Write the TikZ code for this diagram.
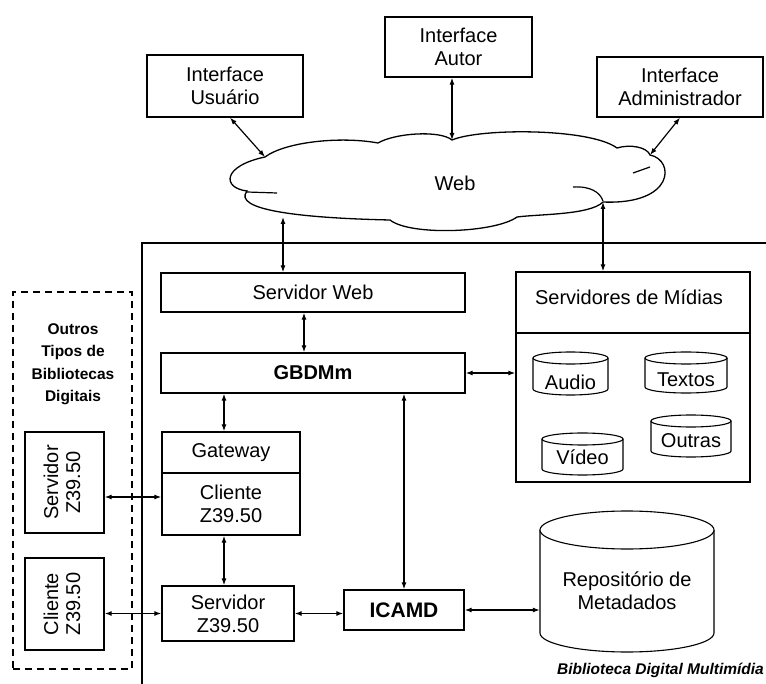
\documentclass[tikz,border=0pt]{standalone}
\usepackage{fontspec}
\setmainfont{Liberation Sans}
\usetikzlibrary{arrows.meta,calc}
\newcommand\mainsize{\fontsize{20}{23}\selectfont}
% name, left, top, right, bottom, ry, text y, text
\newcommand\dbcyl[8]{%
  \path[draw,line width=1.1pt,fill=white] (#2,#3+#6) -- (#2,#5-#6)
     arc[start angle=180,end angle=0,x radius={(#4-#2)/2},y radius=#6] -- (#4,#3+#6);
  \draw[line width=1.1pt,fill=white] ({(#2+#4)/2},#3+#6) ellipse[x radius={(#4-#2)/2},y radius=#6];
  \node[inner sep=0pt,minimum width={(#4-#2)*1pt},minimum height={(#5-#3)*1pt}] (#1) at ({(#2+#4)/2},{(#3+#5)/2}) {};
  \node[inner sep=0pt,align=center,font=\mainsize] (#1-label) at ({(#2+#4)/2},#7) {#8};
}
\begin{document}
\begin{tikzpicture}[x=1pt,y=-1pt,
  box/.style={draw,line width=1.3pt,inner sep=0pt,align=center,font=\mainsize},
  dar/.style={line width=1.2pt,{Latex[length=7pt,width=5pt]}-{Latex[length=7pt,width=5pt]}},
  lbl/.style={inner sep=0pt,align=center,font=\mainsize}]
\useasboundingbox (0,0) rectangle (766,684);

% top interfaces
\node[box,minimum width=156pt,minimum height=62pt] (iusu) at (225,86) {Interface\\Usuário};
\node[box,minimum width=147pt,minimum height=60pt] (iautor) at (458.5,47) {Interface\\Autor};
\node[box,minimum width=166pt,minimum height=60pt] (iadm) at (680,87) {Interface\\Administrador};

% cloud
\draw[line width=1.3pt,fill=white] (265,157)
  .. controls (285,142) and (340,136) .. (378,143)
  .. controls (395,133) and (440,130) .. (452,140)
  .. controls (480,128) and (590,128) .. (617,148)
  .. controls (630,144) and (647,147) .. (650,155)
  .. controls (675,160) and (675,205) .. (603,202)
  .. controls (590,215) and (540,214) .. (517,217)
  .. controls (495,233) and (410,236) .. (390,220)
  .. controls (300,218) and (232,210) .. (247,191)
  .. controls (222,188) and (222,166) .. (265,157);
\draw[line width=1.2pt] (247,192) -- (277,193);
\draw[line width=1.2pt] (633,173) -- (650,167);
\draw[line width=1.2pt] (573,187) .. controls (590,186) and (600,192) .. (603,201);
\node[lbl] (web) at (455,183) {Web};
\coordinate (cU) at (265,157);
\coordinate (cA) at (452,140);
\coordinate (cM) at (650,155);
\coordinate (cW) at (283,217);
\coordinate (cD) at (603,202);

% outer frame
\draw[line width=1.3pt] (766,243) -- (142,243) -- (142,684);

% inner boxes
\node[box,minimum width=304pt,minimum height=39pt] (sw) at (313,292.5) {Servidor Web};
\node[box,minimum width=304pt,minimum height=40pt,font=\bfseries\mainsize] (gbd) at (313,373) {GBDMm};

\node[box,minimum width=234pt,minimum height=210pt] (mid) at (633,377) {};
\coordinate (mdiv) at (0,333);
\draw[line width=1.3pt] (mid.west |- mdiv) -- (mid.east |- mdiv);
\node[lbl] (midt) at (629,297) {Servidores de Mídias};
\dbcyl{au}{533}{352}{608}{395}{6}{382}{Audio}
\dbcyl{tx}{645}{352}{727}{393}{6}{380}{Textos}
\dbcyl{ou}{651}{415}{731}{457}{6}{441}{Outras}
\dbcyl{vi}{542}{433}{623}{475}{6}{457}{Vídeo}

\node[box,minimum width=138pt,minimum height=41pt] (gw) at (231,452.5) {Gateway};
\node[box,minimum width=138pt,minimum height=62pt] (cz) at (231,504) {Cliente\\Z39.50};
\node[box,minimum width=132pt,minimum height=55pt] (sz) at (228,613.5) {Servidor\\Z39.50};
\node[box,minimum width=120pt,minimum height=40pt,font=\bfseries\fontsize{21}{24}\selectfont] (icamd) at (404,610) {ICAMD};
\dbcyl{repo}{540}{511}{714}{652}{19}{591}{Repositório de\\Metadados}

% other libraries
\node[draw,line width=1.6pt,dash pattern=on 7pt off 5pt,minimum width=119pt,minimum height=377pt,inner sep=0pt] (dbx) at (72.5,480.5) {};
\node[inner sep=0pt,align=center,font=\bfseries\fontsize{15.5}{22.5}\selectfont] (dbt) at (73,364) {Outros\\Tipos de\\Bibliotecas\\Digitais};
\node[box,minimum width=79pt,minimum height=101pt] (es) at (64.5,482.5)
  {\rotatebox{90}{\begin{tabular}{@{}c@{}}Servidor\\[-1pt]Z39.50\end{tabular}}};
\node[box,minimum width=79pt,minimum height=92pt] (ec) at (64.5,604)
  {\rotatebox{90}{\begin{tabular}{@{}c@{}}Cliente\\[-1pt]Z39.50\end{tabular}}};

\node[anchor=east,inner sep=0pt,font=\bfseries\itshape\fontsize{15.5}{18}\selectfont] (bib) at (764,670) {Biblioteca Digital Multimídia};

% connectors
\draw[dar] ([xshift=5pt]iusu.south) -- (cU);
\draw[dar] (cA |- iautor.south) -- (cA);
\draw[dar] (iadm.south) -- (cM);
\draw[dar] (cW) -- (cW |- sw.north);
\draw[dar] (cD) -- (cD |- mid.north);
\coordinate (x1) at (304,0);
\coordinate (x2) at (224,0);
\coordinate (y1) at (0,497);
\draw[dar] (x1 |- sw.south) -- (x1 |- gbd.north);
\draw[dar] (x2 |- gbd.south) -- (x2 |- gw.north);
\draw[dar] (gbd.south -| icamd.north) -- (icamd.north);
\draw[dar] (gbd.east) -- (gbd.east -| mid.west);
\draw[dar] (x2 |- cz.south) -- (x2 |- sz.north);
\draw[dar] (es.east |- y1) -- (cz.west |- y1);
\draw[dar] (ec.east |- sz.west) -- (sz.west);
\draw[dar] (sz.east) -- (sz.east -| icamd.west);
\draw[dar] (icamd.east) -- (icamd.east -| repo.west);
\end{tikzpicture}
\end{document}
